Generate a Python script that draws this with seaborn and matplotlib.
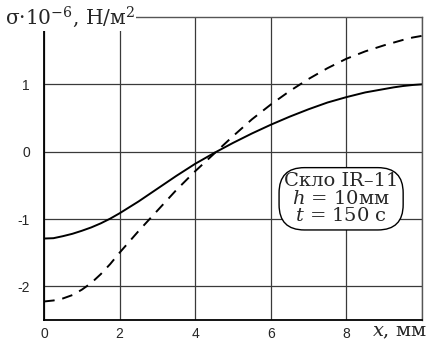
import matplotlib
matplotlib.use("Agg")
import matplotlib.pyplot as plt
import seaborn as sns
import pandas as pd

x_mm = [0, 0.25, 0.5, 0.75, 1, 1.25, 1.5, 1.75, 2, 2.5, 3, 3.5, 4, 4.5, 5, 5.5, 6, 6.5, 7,
        7.5, 8, 8.5, 9, 9.25, 9.5, 9.75, 10]
sigma_solid = [-1.29, -1.285, -1.255, -1.22, -1.175, -1.125, -1.065, -0.995, -0.915, -0.74,
               -0.55, -0.36, -0.18, -0.02, 0.13, 0.27, 0.40, 0.52, 0.63, 0.73, 0.81, 0.88,
               0.93, 0.955, 0.975, 0.99, 1.00]
sigma_dashed = [-2.225, -2.21, -2.18, -2.13, -2.05, -1.95, -1.82, -1.67, -1.50, -1.18, -0.875,
                -0.57, -0.29, -0.03, 0.23, 0.48, 0.70, 0.90, 1.08, 1.24, 1.38, 1.49, 1.58,
                1.62, 1.66, 1.695, 1.72]
xticks = [0, 2, 4, 6, 8, 10]
xtick_labels = ["0", "2", "4", "6", "8", ""]
yticks = [-2, -1, 0, 1]
ytick_labels = ["-2", "-1", "0", "1"]

sns.set_style("white")
plt.rcParams["font.family"] = ["Liberation Sans", "DejaVu Sans"]
plt.rcParams["mathtext.fontset"] = "dejavuserif"

fig = plt.figure(figsize=(4.28, 3.51), dpi=100)
ax = fig.add_axes([0.1028, 0.0883, 0.8832, 0.8633])

df = pd.DataFrame({"x": x_mm, "solid": sigma_solid, "dashed": sigma_dashed})
sns.lineplot(data=df, x="x", y="solid", ax=ax, color="black", lw=1.4)
sns.lineplot(data=df, x="x", y="dashed", ax=ax, color="black", lw=1.4)
ax.lines[-1].set_linestyle((0, (5.5, 4)))

ax.set_xlim(0, 10)
ax.set_ylim(-2.5, 2.0)
ax.set_xticks(xticks)
ax.set_xticklabels(xtick_labels, fontsize=10)
ax.set_yticks(yticks)
ax.set_yticklabels(ytick_labels, fontsize=10)
ax.set_xticks([1, 3, 5, 7, 9], minor=True)
ax.set_yticks([-2.5, -1.5, -0.5, 0.5, 1.5], minor=True)
ax.tick_params(axis="both", which="both", direction="in", length=4, width=1, color="#333333")
ax.tick_params(axis="x", pad=5)
ax.tick_params(axis="y", pad=10)
ax.grid(True, which="major", color="#3a3a3a", lw=0.9)
ax.set_xlabel("")
ax.set_ylabel("")
for s in ["left", "bottom"]:
    ax.spines[s].set_color("black")
    ax.spines[s].set_linewidth(1.3)
for s in ["top", "right"]:
    ax.spines[s].set_color("#555555")
    ax.spines[s].set_linewidth(1.0)

fig.text(5 / 428, 1 - 17 / 351, "σ·10$^{-6}$, Н/м$^{2}$", family="DejaVu Serif",
         fontsize=14.5, ha="left", va="center",
         bbox=dict(facecolor="white", edgecolor="none", pad=1.0))
fig.text(1 - 1 / 428, 1 - 332 / 351, "$x$, мм", family="DejaVu Serif", fontsize=14,
         ha="right", va="center")

ax.text(7.86, -0.70, "Скло IR–11\n$h$ = 10мм\n$t$ = 150 с", family="DejaVu Serif",
        fontsize=14, ha="center", va="center", linespacing=0.95,
        bbox=dict(boxstyle="round,pad=0.25,rounding_size=1.3", facecolor="white",
                  edgecolor="black", lw=1.0))

fig.savefig("out.png", dpi=100)
